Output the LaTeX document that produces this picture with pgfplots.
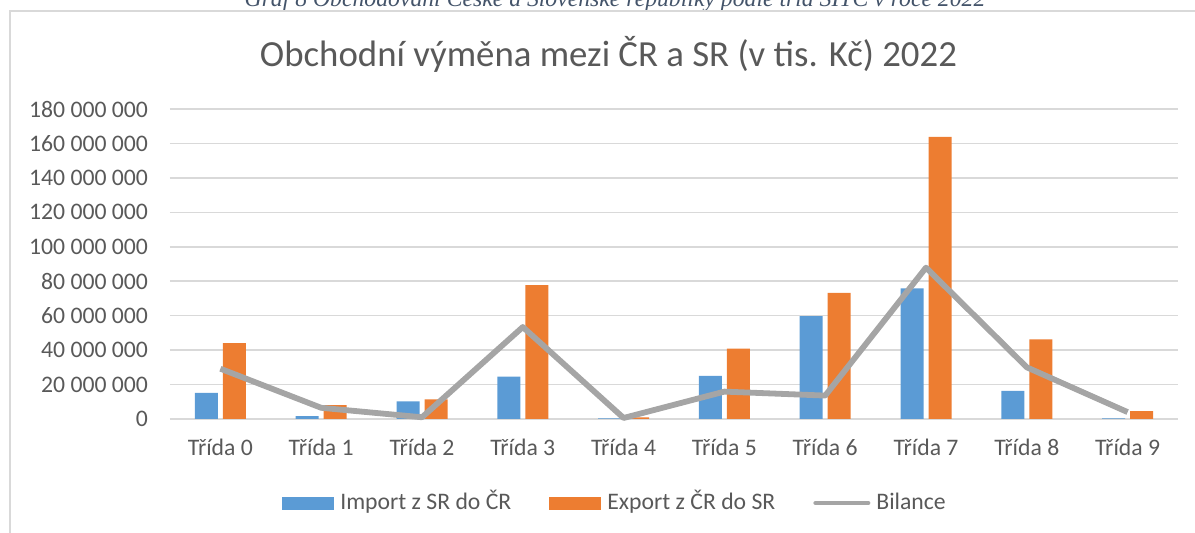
\documentclass[border=0pt]{standalone}
\usepackage{fontspec}
\setmainfont{Carlito}
\newfontfamily\capfont{Liberation Serif}
\usepackage{pgfplots}
\pgfplotsset{compat=1.18}
\definecolor{cblue}{HTML}{5B9BD5}
\definecolor{corange}{HTML}{ED7D31}
\definecolor{cgray}{HTML}{A5A5A5}
\definecolor{gridc}{HTML}{D9D9D9}
\definecolor{txt}{HTML}{595959}
\definecolor{capcol}{HTML}{44546A}
\begin{document}
\begin{tikzpicture}
\useasboundingbox (0,0) rectangle (597.5bp,266.5bp);
\node[anchor=base, text=capcol, font={\capfont\itshape\fontsize{11.85bp}{14bp}\selectfont}] at (307.5bp,263.25bp) {Graf 8 Obchodování České a Slovenské republiky podle tříd SITC v roce 2022};
\draw[gridc, line width=0.75bp] (5bp,-5bp) -- (5bp,261bp) -- (600bp,261bp);
\node[anchor=base, text=txt, font={\fontsize{18.4bp}{22bp}\selectfont}] at (304.25bp,233.2bp) {Obchodní výměna mezi ČR a SR (v tis. Kč) 2022};
\begin{axis}[
  at={(85bp,57bp)}, anchor=south west,
  width=504bp, height=155bp, scale only axis,
  xmin=-0.5, xmax=9.5, ymin=0, ymax=180000000,
  axis line style={draw=none},
  major tick length=0pt,
  ymajorgrids, grid style={color=gridc, line width=0.75bp},
  xtick={0,1,2,3,4,5,6,7,8,9},
  xticklabels={Třída 0,Třída 1,Třída 2,Třída 3,Třída 4,Třída 5,Třída 6,Třída 7,Třída 8,Třída 9},
  ytick={0,20000000,40000000,60000000,80000000,100000000,120000000,140000000,160000000,180000000},
  yticklabels={0,20 000 000,40 000 000,60 000 000,80 000 000,100 000 000,120 000 000,140 000 000,160 000 000,180 000 000},
  scaled y ticks=false,
  ticklabel style={font={\fontsize{11.85bp}{14bp}\selectfont}, text=txt},
  yticklabel style={xshift=-7.5bp},
  xticklabel style={yshift=-6.5bp},
  clip=false,
  legend columns=3,
  legend cell align=left,
  legend style={at={(0.4405,-0.271)}, anchor=center, draw=none, fill=none,
    font={\fontsize{11.85bp}{14bp}\selectfont}, text=txt,
    nodes={inner sep=0pt, text height=0.85em, text depth=0.2em},
    /tikz/every odd column/.append style={column sep=3bp},
    /tikz/every even column/.append style={column sep=19bp}},
]
\addplot[ybar, bar width=11.5bp, bar shift=-7bp, fill=cblue, draw=none,
  legend image code/.code={\fill[cblue] (0bp,-3.25bp) rectangle (26bp,3.25bp);}]
  coordinates {(0,15100000) (1,1700000) (2,10300000) (3,24600000) (4,300000) (5,25100000) (6,59800000) (7,75900000) (8,16300000) (9,400000)};
\addlegendentry{Import z SR do ČR}
\addplot[ybar, bar width=11.5bp, bar shift=7bp, fill=corange, draw=none,
  legend image code/.code={\fill[corange] (0bp,-3.25bp) rectangle (26bp,3.25bp);}]
  coordinates {(0,44100000) (1,8000000) (2,11400000) (3,77800000) (4,900000) (5,40800000) (6,73200000) (7,163800000) (8,46300000) (9,4600000)};
\addlegendentry{Export z ČR do SR}
\addplot[color=cgray, line width=2.9bp, line join=round, mark=none, sharp plot,
  legend image code/.code={\path[draw=none, fill=none] (0bp,-3.25bp) rectangle (28.5bp,3.25bp);
    \draw[cgray, line width=2.4bp, line cap=round] (1.2bp,0bp) -- (27.3bp,0bp);}]
  coordinates {(0,29200000) (1,6500000) (2,1000000) (3,53400000) (4,600000) (5,15900000) (6,13600000) (7,87900000) (8,30000000) (9,4000000)};
\addlegendentry{Bilance}
\end{axis}
\end{tikzpicture}
\end{document}
